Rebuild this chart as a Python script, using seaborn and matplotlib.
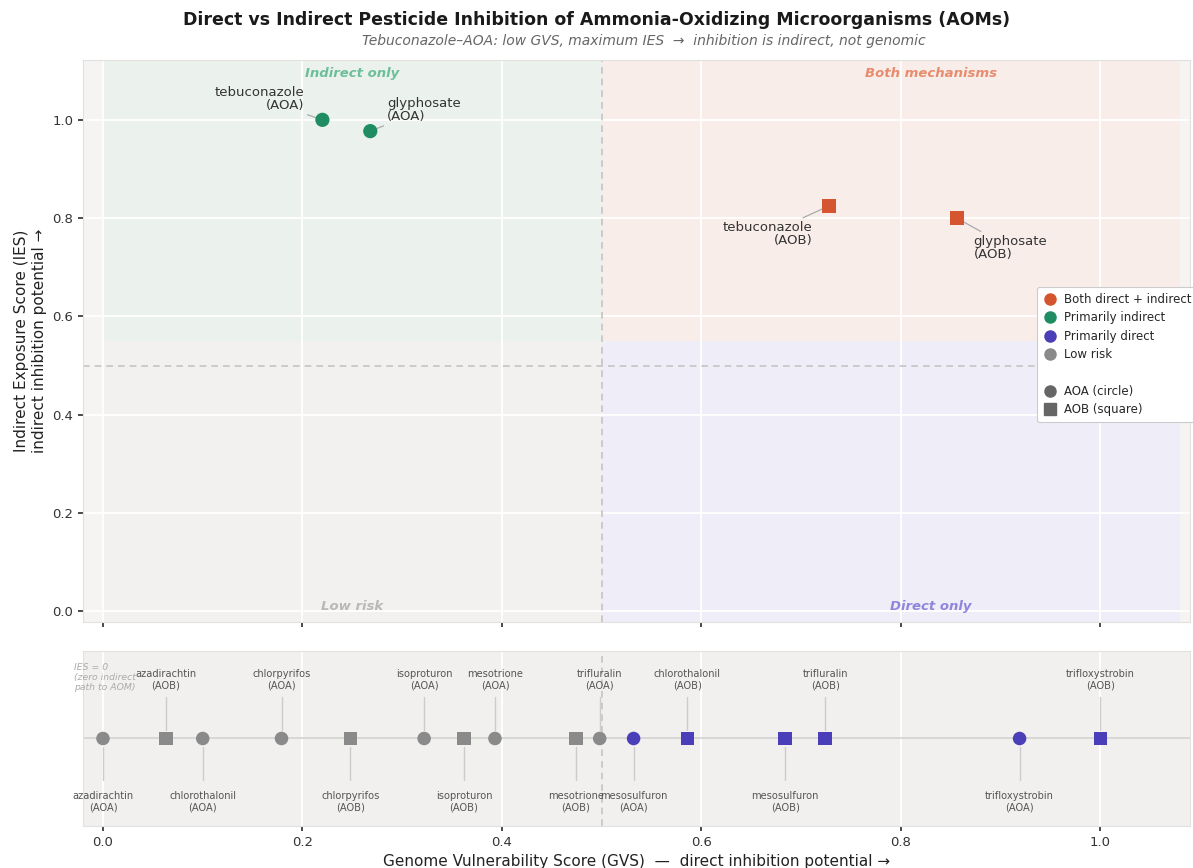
import matplotlib
matplotlib.use("Agg")
import matplotlib.pyplot as plt
from matplotlib.lines import Line2D
import seaborn as sns
import pandas as pd

# ---- data -------------------------------------------------------------
# compounds with a non-zero indirect exposure score
top_compound = ["tebuconazole", "glyphosate", "tebuconazole", "glyphosate"]
top_group = ["AOA", "AOA", "AOB", "AOB"]
top_gvs = [0.220, 0.268, 0.728, 0.856]
top_ies = [1.000, 0.977, 0.825, 0.800]
top_class = ["Primarily indirect", "Primarily indirect",
             "Both direct + indirect", "Both direct + indirect"]

# compounds with IES = 0 (shown on the lower strip)
strip_compound = ["azadirachtin", "azadirachtin", "chlorothalonil", "chlorpyrifos",
                  "chlorpyrifos", "isoproturon", "isoproturon", "mesotrione",
                  "mesotrione", "trifluralin", "mesosulfuron", "chlorothalonil",
                  "mesosulfuron", "trifluralin", "trifloxystrobin", "trifloxystrobin"]
strip_group = ["AOA", "AOB", "AOA", "AOA", "AOB", "AOA", "AOB", "AOA",
               "AOB", "AOA", "AOA", "AOB", "AOB", "AOB", "AOA", "AOB"]
strip_gvs = [0.000, 0.063, 0.100, 0.179, 0.248, 0.322, 0.362, 0.393,
             0.474, 0.498, 0.532, 0.586, 0.684, 0.724, 0.919, 1.000]
strip_class = ["Low risk"] * 10 + ["Primarily direct"] * 6

x_ticks = [0.0, 0.2, 0.4, 0.6, 0.8, 1.0]
y_ticks = [0.0, 0.2, 0.4, 0.6, 0.8, 1.0]

GVS_THRESHOLD = 0.5
IES_THRESHOLD = 0.5
SHADE_SPLIT = 0.55

palette = {
    "Both direct + indirect": "#d4552f",
    "Primarily indirect": "#1f8c62",
    "Primarily direct": "#4a3fb8",
    "Low risk": "#8a8a8a",
}
markers = {"AOA": "o", "AOB": "s"}

top_df = pd.DataFrame({"compound": top_compound, "group": top_group,
                       "GVS": top_gvs, "IES": top_ies, "cls": top_class})
strip_df = pd.DataFrame({"compound": strip_compound, "group": strip_group,
                         "GVS": strip_gvs, "cls": strip_class})
strip_df["y"] = 0.0

# ---- style ------------------------------------------------------------
sns.set_theme(style="darkgrid", rc={
    "axes.facecolor": "#f5f4f2",
    "grid.color": "white",
    "grid.linewidth": 1.3,
    "axes.edgecolor": "#e2e1df",
    "axes.linewidth": 0.8,
    "xtick.major.size": 3.5,
    "ytick.major.size": 3.5,
    "xtick.color": "#333333",
    "ytick.color": "#333333",
    "xtick.bottom": True,
    "ytick.left": True,
})
plt.rcParams["font.family"] = ["DejaVu Sans"]

fig = plt.figure(figsize=(11.93, 8.68), dpi=100)
ax = fig.add_axes([0.0696, 0.2834, 0.928, 0.6476])
axs = fig.add_axes([0.0696, 0.0484, 0.928, 0.2016])

XLIM = (-0.02, 1.09)
SHADE_R = 1.08

# ---- upper panel: quadrants -------------------------------------------
ax.set_xlim(*XLIM)
ax.set_ylim(-0.022, 1.122)
ax.fill_between([0, GVS_THRESHOLD], SHADE_SPLIT, 1.122, color="#ebf2ed", lw=0, zorder=0)
ax.fill_between([GVS_THRESHOLD, SHADE_R], SHADE_SPLIT, 1.122, color="#f9edea", lw=0, zorder=0)
ax.fill_between([GVS_THRESHOLD, SHADE_R], -0.022, SHADE_SPLIT, color="#efedf7", lw=0, zorder=0)
ax.fill_between([0, GVS_THRESHOLD], -0.022, SHADE_SPLIT, color="#f2f1ef", lw=0, zorder=0)

ax.axvline(GVS_THRESHOLD, color="#c4c4c4", ls=(0, (4, 3)), lw=1.2, zorder=1)
ax.axhline(IES_THRESHOLD, color="#c4c4c4", ls=(0, (4, 3)), lw=1.2, zorder=1)

qfont = dict(fontsize=9.5, fontweight="bold", style="italic", ha="center")
ax.text(0.25, 1.094, "Indirect only", color="#6cbf98", va="center", **qfont)
ax.text(0.83, 1.094, "Both mechanisms", color="#e88c6e", va="center", **qfont)
ax.text(0.25, 0.01, "Low risk", color="#b8b8b8", va="center", **qfont)
ax.text(0.83, 0.01, "Direct only", color="#8f86dc", va="center", **qfont)

sns.scatterplot(data=top_df, x="GVS", y="IES", hue="cls", style="group",
                palette=palette, markers=markers, s=105, linewidth=0,
                legend=False, ax=ax, zorder=4)

label_offsets = [(-13, 6, "right", "bottom"), (12, 6, "left", "bottom"),
                 (-12, -11, "right", "top"), (12, -12, "left", "top")]
for (comp, grp, gx, gy), (dx, dy, ha, va) in zip(
        zip(top_compound, top_group, top_gvs, top_ies), label_offsets):
    ax.annotate(f"{comp}\n({grp})", (gx, gy), xytext=(dx, dy),
                textcoords="offset points", ha=ha, va=va, fontsize=9.5,
                color="#333333", multialignment=ha, linespacing=1.0,
                arrowprops=dict(arrowstyle="-", color="#aaaaaa", lw=0.9,
                                shrinkA=0, shrinkB=4))

ax.set_xticks(x_ticks)
ax.set_yticks(y_ticks)
ax.set_yticklabels([f"{v:.1f}" for v in y_ticks], fontsize=9.5)
ax.tick_params(axis="x", labelbottom=False)
ax.set_xlabel("")
ax.set_ylabel("Indirect Exposure Score (IES)\nindirect inhibition potential →",
              fontsize=11, color="#222222")

legend_handles = [
    Line2D([], [], marker="o", ls="", color=palette["Both direct + indirect"], markersize=8, label="Both direct + indirect"),
    Line2D([], [], marker="o", ls="", color=palette["Primarily indirect"], markersize=8, label="Primarily indirect"),
    Line2D([], [], marker="o", ls="", color=palette["Primarily direct"], markersize=8, label="Primarily direct"),
    Line2D([], [], marker="o", ls="", color=palette["Low risk"], markersize=8, label="Low risk"),
    Line2D([], [], ls="", label=" "),
    Line2D([], [], marker="o", ls="", color="#666666", markersize=8, label="AOA (circle)"),
    Line2D([], [], marker="s", ls="", color="#666666", markersize=8, label="AOB (square)"),
]
leg = ax.legend(handles=legend_handles, loc="upper left", bbox_to_anchor=(0.856, 0.606),
                fontsize=8.5, frameon=True, facecolor="white", edgecolor="#cccccc",
                framealpha=1.0, borderpad=0.5, labelspacing=0.45, handletextpad=0.6,
                handlelength=1.2)
leg.get_frame().set_linewidth(0.8)

# ---- lower strip: IES = 0 ---------------------------------------------
axs.set_facecolor("#f1f0ee")
axs.set_xlim(*XLIM)
axs.set_ylim(-1, 1)
axs.axhline(0, color="#d2d2d2", lw=1.2, zorder=1)
axs.axvline(GVS_THRESHOLD, color="#c4c4c4", ls=(0, (4, 3)), lw=1.2, zorder=1)
sns.scatterplot(data=strip_df, x="GVS", y="y", hue="cls", style="group",
                palette=palette, markers=markers, s=95, linewidth=0,
                legend=False, ax=axs, zorder=4)

for i, (comp, grp, gx) in enumerate(zip(strip_compound, strip_group, strip_gvs)):
    if i % 2 == 1:
        axs.plot([gx, gx], [0.1, 0.47], color="#cccccc", lw=1.0, zorder=2)
        axs.text(gx, 0.55, f"{comp}\n({grp})", ha="center", va="bottom",
                 fontsize=7.1, color="#555555", linespacing=1.15)
    else:
        axs.plot([gx, gx], [-0.1, -0.48], color="#cccccc", lw=1.0, zorder=2)
        axs.text(gx, -0.6, f"{comp}\n({grp})", ha="center", va="top",
                 fontsize=7.1, color="#555555", linespacing=1.15)

axs.text(-0.008, 0.93, "IES = 0\n(zero indirect\npath to AOM)", transform=axs.transAxes,
         ha="left", va="top", fontsize=6.7, style="italic", color="#ababab",
         linespacing=1.1)

axs.set_xticks(x_ticks)
axs.set_xticklabels([f"{v:.1f}" for v in x_ticks], fontsize=9.5)
axs.set_yticks([])
axs.grid(axis="y", visible=False)
axs.tick_params(axis="y", left=False)
axs.set_ylabel("")
axs.set_xlabel("Genome Vulnerability Score (GVS)  —  direct inhibition potential →",
               fontsize=11, color="#222222")

# ---- titles -----------------------------------------------------------
fig.text(0.5, 0.977, "Direct vs Indirect Pesticide Inhibition of Ammonia-Oxidizing Microorganisms (AOMs)",
         ha="center", va="center", fontsize=12.5, fontweight="bold", color="#1a1a1a")
fig.text(0.54, 0.953, "Tebuconazole–AOA: low GVS, maximum IES  →  inhibition is indirect, not genomic",
         ha="center", va="center", fontsize=10, style="italic", color="#666666")

fig.savefig("out.png", dpi=100)
